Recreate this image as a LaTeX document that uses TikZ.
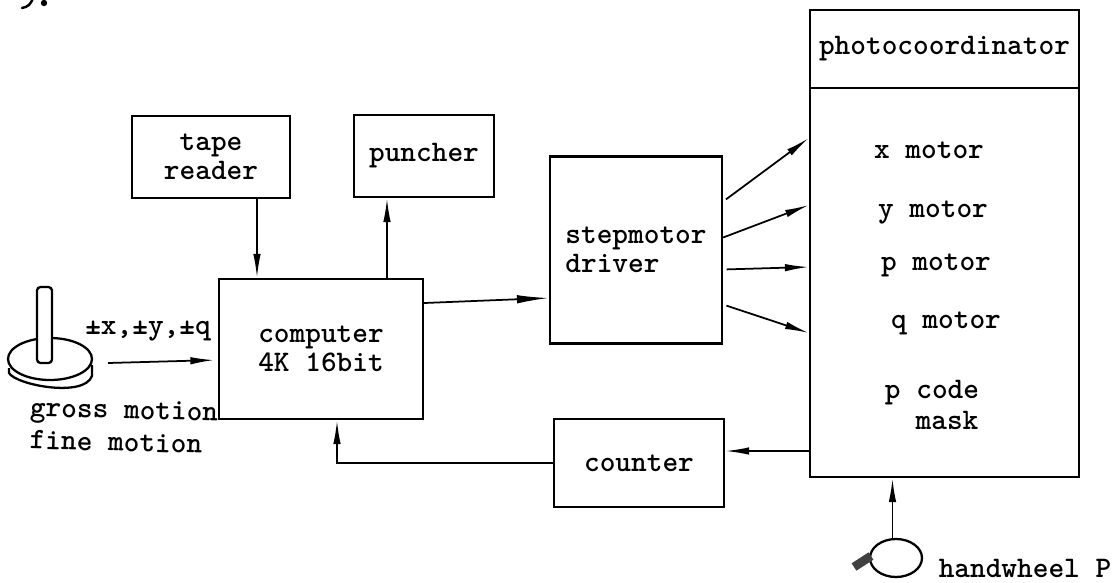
\documentclass[tikz,border=0pt]{standalone}
\usetikzlibrary{arrows.meta,shapes.geometric}
\begin{document}
\begin{tikzpicture}[x=0.02cm,y=-0.02cm,
  txt/.style={font=\fontsize{17}{16.5}\selectfont\ttfamily\bfseries,inner sep=0pt},
  block/.style={draw,line width=1.3pt,txt,align=center},
  flow/.style={line width=1pt,-{Latex[length=.48cm,width=.15cm]}}]
\useasboundingbox (0,0) rectangle (1120,582);
\node[block,minimum width=3.16cm,minimum height=1.64cm] (tape) at (211,157) {tape\\reader};
\node[block,minimum width=2.8cm,minimum height=1.64cm] (puncher) at (424,156) {puncher};
\node[block,minimum width=4.08cm,minimum height=2.8cm] (computer) at (321,349) {computer\\4K 16bit};
\node[block,align=left,minimum width=3.44cm,minimum height=3.74cm] (driver) at (636,250) {stepmotor\\driver};
\node[block,minimum width=3.4cm,minimum height=1.76cm] (counter) at (639,463) {counter};
\node[block,minimum width=5.38cm,minimum height=1.56cm] (photo) at (944.5,49) {photocoordinator};
\node[block,minimum width=5.38cm,minimum height=7.78cm] (body) at (944.5,282.5) {};
\node[txt] (xmotor) at (929,150) {x motor};
\node[txt] (ymotor) at (933,213) {y motor};
\node[txt] (pmotor) at (936,265) {p motor};
\node[txt] (qmotor) at (946,323) {q motor};
\node[txt] (pcode) at (932,393) {p code};
\node[txt] (mask) at (947,420) {mask};
\node[txt] (axes) at (148,331) {±x,±y,±q};
\node[txt,rotate=-1.5] (gross) at (124,413) {gross motion};
\node[txt,rotate=-1.5] (fine) at (116,442) {fine motion};
\node[txt] (hand) at (1025,568) {handwheel P};
\node[ellipse,draw,line width=1.3pt,inner sep=0pt,minimum width=1.04cm,minimum height=.76cm] (wheel) at (896,558) {};
\coordinate (cntin) at ([yshift=.24cm]counter.east);
\coordinate (stick) at (108,363);
\draw[flow] ([xshift=.92cm]tape.south) -- ([xshift=.92cm]tape.south |- computer.north);
\draw[flow] ([xshift=1.32cm]computer.north) -- ([xshift=1.32cm]computer.north |- puncher.south);
\draw[flow,-{Latex[length=.64cm,width=.17cm]}] ([yshift=.92cm]computer.east) -- ([yshift=-.96cm]driver.west);
\draw[flow,shorten <=2pt] ([yshift=.97cm]driver.east) -- ([yshift=2.89cm]body.west);
\draw[flow] ([yshift=.25cm]driver.east) -- ([yshift=1.55cm]body.west);
\draw[flow,shorten <=2pt] ([yshift=-.39cm]driver.east) -- ([yshift=.31cm]body.west);
\draw[flow,shorten <=2pt] ([yshift=-1.09cm]driver.east) -- ([yshift=-1.01cm]body.west);
\draw[flow] (body.west |- cntin) -- (cntin);
\draw[flow] (counter.west) -| ([xshift=.32cm]computer.south);
\draw[flow,shorten >=2pt] (stick) -- ([yshift=-.22cm]computer.west);
\draw[flow] (wheel.100) -- (wheel.100 |- body.south);
\draw[line width=5pt,black!75] (854,567) -- (871,556);
\draw[line width=1.3pt] (9,368) -- (9,373) .. controls (16,385) and (84,398) .. (92,376) -- (92,365);
\draw[line width=1.3pt,fill=white] (50,359) ellipse (42 and 21);
\draw[line width=1.3pt,fill=white,rounded corners=2pt] (37,287) rectangle (52,363);
\draw[line width=1.4pt,line cap=round] (22,8) .. controls (28,7) and (31,4) .. (33,-2);
\fill (44,3) circle (3.2);
\end{tikzpicture}
\end{document}
